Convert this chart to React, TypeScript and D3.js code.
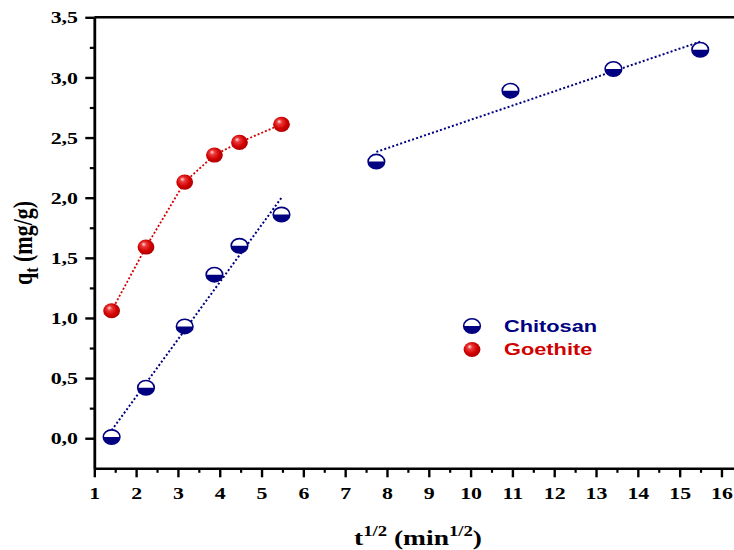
import React, { useEffect, useRef } from "react";
import * as d3 from "d3";

// t^1/2 values (min^1/2) and uptake q_t (mg/g)
const chitosanX = [1.414, 2.236, 3.162, 3.873, 4.472, 5.477, 7.746, 10.954, 13.416, 15.492];
const chitosanY = [0.01, 0.42, 0.93, 1.36, 1.6, 1.86, 2.3, 2.89, 3.07, 3.23];
const goethiteX = [1.414, 2.236, 3.162, 3.873, 4.472, 5.477];
const goethiteY = [1.06, 1.59, 2.13, 2.355, 2.46, 2.61];
// the two linear stages fitted for chitosan (index ranges into the arrays above)
const chitosanStages = [[0, 6], [6, 10]];

const xMajor = d3.range(1, 17, 1);
const xMinor = d3.range(1.5, 16.5, 1);
const yMajor = d3.range(0, 3.51, 0.5);
const yMinor = d3.range(0.25, 3.5, 0.5);

const NAVY = "#000080";
const RED = "#d10000";
const STRETCH = 1.25; // the original text is widened horizontally

function fit(xs: number[], ys: number[]) {
  const mx = d3.mean(xs)!;
  const my = d3.mean(ys)!;
  const sxy = d3.sum(xs, (v, i) => (v - mx) * (ys[i] - my));
  const sxx = d3.sum(xs, (v) => (v - mx) ** 2);
  const slope = sxy / sxx;
  return (v: number) => my + slope * (v - mx);
}

export default function App({
  width = 734,
  height = 550,
  marginTop = 17.3,
  marginLeft = 94.3,
  marginBottom = 81.7,
}) {
  const gx = useRef<SVGGElement>(null);
  const gxm = useRef<SVGGElement>(null);
  const gy = useRef<SVGGElement>(null);
  const gym = useRef<SVGGElement>(null);

  const x = d3.scaleLinear([1, 16.3], [marginLeft, width]);
  const y = d3.scaleLinear([-0.25, 3.5], [height - marginBottom, marginTop]);

  useEffect(() => {
    const comma = (d: d3.NumberValue) => d3.format(".1f")(d as number).replace(".", ",");

    d3.select(gx.current!)
      .call(d3.axisBottom(x).tickValues(xMajor).tickSize(9).tickSizeOuter(0).tickPadding(9.5).tickFormat(d3.format("d")))
      .call((g) => g.select(".domain").attr("stroke-width", 2.6))
      .call((g) => g.selectAll(".tick line").attr("stroke-width", 2.4))
      .call((g) =>
        g.selectAll(".tick text")
          .attr("transform", `scale(${STRETCH},1)`)
          .style("font-family", "'Liberation Serif', 'Times New Roman', serif")
          .style("font-weight", "bold")
          .style("font-size", "17.5px")
          .attr("fill", "#000")
      );

    d3.select(gxm.current!)
      .call(d3.axisBottom(x).tickValues(xMinor).tickSize(4.5).tickSizeOuter(0).tickFormat(() => ""))
      .call((g) => g.select(".domain").remove())
      .call((g) => g.selectAll(".tick line").attr("stroke-width", 2.2));

    d3.select(gy.current!)
      .call(d3.axisLeft(y).tickValues(yMajor).tickSize(9).tickSizeOuter(0).tickFormat(comma))
      .call((g) => g.select(".domain").attr("stroke-width", 2.8))
      .call((g) => g.selectAll(".tick line").attr("stroke-width", 2.4))
      .call((g) =>
        g.selectAll(".tick text")
          .attr("x", -16.3 / STRETCH)
          .attr("transform", `scale(${STRETCH},1)`)
          .style("font-family", "'Liberation Serif', 'Times New Roman', serif")
          .style("font-weight", "bold")
          .style("font-size", "17.5px")
          .attr("fill", "#000")
      );

    d3.select(gym.current!)
      .call(d3.axisLeft(y).tickValues(yMinor).tickSize(4.5).tickSizeOuter(0).tickFormat(() => ""))
      .call((g) => g.select(".domain").remove())
      .call((g) => g.selectAll(".tick line").attr("stroke-width", 2.2));
  }, [width, height]);

  const goethiteLine = d3.line<number>()
    .x((d) => x(d))
    .y((d, i) => y(goethiteY[i]));

  const chitosanFits = chitosanStages.map(([a, b]) => {
    const xs = chitosanX.slice(a, b);
    const f = fit(xs, chitosanY.slice(a, b));
    const x0 = xs[0];
    const x1 = xs[xs.length - 1];
    return { x0, x1, y0: f(x0), y1: f(x1) };
  });

  const halfBall = (cx: number, cy: number, key: string | number) => (
    <g key={key} transform={`translate(${cx},${cy})`}>
      <ellipse rx={8.3} ry={7.2} fill="#fff" stroke={NAVY} strokeWidth={1.6} />
      <path d="M-8.3,0 A8.3,7.2 0 0 0 8.3,0 Z" fill={NAVY} />
    </g>
  );

  const redBall = (cx: number, cy: number, key: string | number) => (
    <ellipse key={key} cx={cx} cy={cy} rx={8.4} ry={7.6} fill="url(#ballGrad)" />
  );

  const serif = "'Liberation Serif', 'Times New Roman', serif";
  const sans = "'Liberation Sans', Arial, sans-serif";

  return (
    <svg width={width} height={height} style={{ position: "absolute", left: 0, top: 0, background: "#fff" }}>
      <defs>
        <radialGradient id="ballGrad" cx="0.45" cy="0.45" r="0.6" fx="0.35" fy="0.3">
          <stop offset="0" stopColor="#ffe0e0" />
          <stop offset="0.25" stopColor="#ec3a3a" />
          <stop offset="0.65" stopColor="#d00000" />
          <stop offset="1" stopColor="#a80000" />
        </radialGradient>
      </defs>

      {/* top frame line */}
      <line x1={marginLeft} x2={width} y1={marginTop} y2={marginTop} stroke="#000" strokeWidth={2.4} />

      <g ref={gxm} transform={`translate(0,${height - marginBottom})`} />
      <g ref={gx} transform={`translate(0,${height - marginBottom})`} />
      <g ref={gym} transform={`translate(${marginLeft},0)`} />
      <g ref={gy} transform={`translate(${marginLeft},0)`} />

      {/* fit lines */}
      {chitosanFits.map((s, i) => (
        <line key={i} x1={x(s.x0)} y1={y(s.y0)} x2={x(s.x1)} y2={y(s.y1)}
          stroke={NAVY} strokeWidth={2} strokeDasharray="2,2.2" />
      ))}
      <path d={goethiteLine(goethiteX) ?? ""} fill="none" stroke={RED} strokeWidth={1.8} strokeDasharray="2,2" />

      {/* markers */}
      {goethiteX.map((v, i) => redBall(x(v), y(goethiteY[i]), "g" + i))}
      {chitosanX.map((v, i) => halfBall(x(v), y(chitosanY[i]), "c" + i))}

      {/* legend */}
      {halfBall(472, 326, "lc")}
      {redBall(472, 349.5, "lg")}
      <text transform={`translate(504,331.5) scale(1.32,1)`} fontFamily={sans} fontWeight="bold" fontSize={16.5} fill={NAVY}>
        Chitosan
      </text>
      <text transform={`translate(504,354.5) scale(1.32,1)`} fontFamily={sans} fontWeight="bold" fontSize={16.5} fill={RED}>
        Goethite
      </text>

      {/* axis titles */}
      <text transform={`translate(418,545) scale(1.25,1)`} textAnchor="middle" fontFamily={serif} fontWeight="bold" fontSize={22}>
        t<tspan dy={-9} fontSize={15}>1/2</tspan>
        <tspan dy={9}> (min</tspan>
        <tspan dy={-9} fontSize={15}>1/2</tspan>
        <tspan dy={9}>)</tspan>
      </text>
      <text transform={`translate(32,243) rotate(-90) scale(1,1.2)`} textAnchor="middle" fontFamily={serif} fontWeight="bold" fontSize={22}>
        q<tspan dy={5} fontSize={16}>t</tspan>
        <tspan dy={-5}> (mg/g)</tspan>
      </text>
    </svg>
  );
}
